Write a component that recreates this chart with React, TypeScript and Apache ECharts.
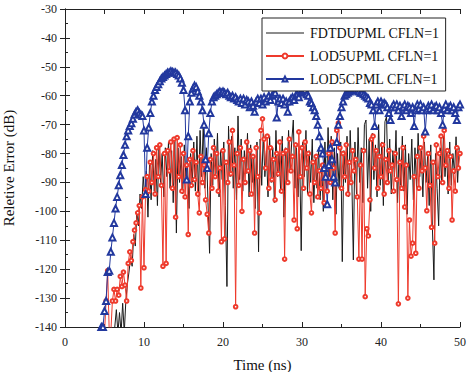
import React, { useEffect, useRef } from "react";
import * as echarts from "echarts";

// Sampling grids (ns)
const BLACK_START = 6.1;
const RED_START = 5.0;
const BLUE_START = 4.6;
const STEP = 0.2;

const seriesNames = ["FDTDUPML CFLN=1", "LOD5UPML CFLN=1", "LOD5CPML CFLN=1"];
const xTicks = [0, 10, 20, 30, 40, 50];
const yTicks = [-140, -130, -120, -110, -100, -90, -80, -70, -60, -50, -40, -30];

// FDTDUPML CFLN=1 (black), t = 6.1, 6.3, ...
const blackValues = [
  -142, -140, -134, -142, -135, -142, -131.8, -142, -131, -125,
  -121, -116, -119, -108, -112, -100, -105, -94, -99, -88,
  -95, -86, -102, -84, -96, -79, -93, -82, -98, -77,
  -90, -80, -95, -78, -88, -76, -92, -79, -97, -75,
  -107.5, -78, -90, -81, -94, -77, -88, -83, -99, -80,
  -90, -76, -93, -74, -95, -72, -88, -70, -92, -78,
  -97, -114.5, -80, -91, -75, -87, -73, -95, -79, -89,
  -76, -98, -126, -70.5, -88, -74, -92, -78, -96, -67,
  -89, -75, -93, -79, -87, -73, -95, -77, -90, -81,
  -99, -76, -114, -75, -91, -73, -88, -79, -95, -74,
  -90, -78, -97, -72, -88, -80, -93, -74, -102, -78,
  -90, -72, -86, -76, -68.4, -92, -78, -95, -80, -113.6,
  -76, -88, -72, -94, -79, -90, -75, -97, -81, -92,
  -78, -96, -84, -100, -76, -93, -71, -88, -74, -96,
  -78, -101, -80, -92, -76, -117.4, -79, -90, -74, -95,
  -72, -88, -116.8, -76, -94, -71, -90, -78, -97, -70,
  -68.4, -92, -75, -100, -73, -89, -77, -95, -70, -91,
  -76, -98, -69, -67.2, -90, -75, -94, -79, -88, -72,
  -97, -78, -91, -74, -93, -77, -101, -80, -89, -75,
  -96, -78, -92, -73, -88, -79, -95, -76, -90, -81,
  -98, -77, -105, -123.7, -80, -92, -105, -78, -90, -74,
  -88, -79, -94, -76, -91, -80, -87, -74.2, -90, -78,
];

// LOD5UPML CFLN=1 (red), t = 5.0, 5.2, ...
const redValues = [
  -142, -131, -120.5, -142, -142, -131, -127, -131, -127, -129,
  -122.5, -126, -121, -125.5, -131, -118, -114, -117, -110.5, -106.5,
  -104, -100.5, -98, -126.5, -95, -119.5, -92.5, -88, -93, -83,
  -90, -80, -94, -78, -88, -77, -91, -119, -80, -118,
  -79, -86, -76, -92, -75, -102, -74.5, -88, -77, -93,
  -80, -95, -84, -108, -82, -91, -79, -89, -83, -94,
  -100.5, -81, -90, -84, -96, -101, -107.5, -82, -92, -78,
  -88, -80, -93, -85, -110.5, -79, -109.5, -83, -90, -76,
  -87, -72, -84, -133, -80, -91, -78, -100, -82, -90,
  -76, -86, -79, -94, -81, -107.5, -78, -88, -100.5, -72,
  -68, -75, -85, -74, -92, -78, -89, -82, -96, -80,
  -87, -76, -93, -80, -116.5, -79, -90, -75, -86, -81,
  -103, -77, -106, -72.5, -88, -78, -92, -76, -85, -80,
  -94, -100.5, -83, -90, -81, -95, -86, -92, -84, -97,
  -88, -93, -80, -90, -76, -85, -107.5, -72, -69.5, -78,
  -92, -80, -88, -77, -94, -83, -90, -79, -86, -82,
  -95, -116.5, -84, -116.5, -79, -129.5, -106, -108.5, -96, -75,
  -74, -85, -79, -92, -81, -88, -77, -94, -82, -90,
  -79, -86, -84, -93, -80, -89, -132, -83, -92, -78,
  -98.5, -84, -130, -103, -115.5, -111, -88, -114.5, -81, -92,
  -78, -86, -74, -85, -99.8, -80, -91, -105.5, -83, -111,
  -77, -88, -80, -74, -90, -72, -84, -79, -92, -81,
  -103, -86, -93, -78, -85, -80,
];

// LOD5CPML CFLN=1 (blue), t = 4.6, 4.8, ...
const blueValues = [
  -140, -140, -134.5, -131, -121, -120.5, -114, -109, -104, -99,
  -95, -91, -87.5, -84, -80.5, -77, -74, -72, -70.5, -69.5,
  -68, -66.5, -65.5, -65, -66, -66.5, -67, -72, -94, -78,
  -71, -66, -62, -60, -58, -57, -56, -55, -54, -53.5,
  -53, -52.5, -52, -52, -51.5, -51.8, -52, -52, -52.5, -53,
  -54, -55.5, -58, -65, -89, -74, -62, -59, -57.5, -56.5,
  -57, -58.5, -60, -62, -65, -70, -82, -85, -73, -66,
  -62, -60.5, -60, -59.5, -59, -58.5, -59, -58.5, -59, -59.5,
  -59, -60, -60.5, -60, -61, -60.5, -61.5, -62, -61, -62.5,
  -61, -63, -61.5, -62, -64, -62, -63.5, -65.5, -62, -61,
  -62.5, -61, -63, -60.5, -62, -61, -60, -61.5, -60, -59.5,
  -59, -67.5, -62, -61, -62.5, -61, -63, -62, -65.5, -62,
  -61, -60.5, -61.5, -60, -59.5, -60.5, -59, -58.5, -58, -58,
  -59.5, -60, -62, -62.5, -64, -65, -67, -70, -74, -78,
  -80, -85, -88, -97.5, -84, -78, -82, -88, -90, -76,
  -70, -67, -64, -62, -60, -59.5, -59, -58.5, -58, -58,
  -57.7, -58, -58.3, -58.5, -59, -59, -59.5, -60, -60.5, -61,
  -62.5, -63, -65, -70.5, -63, -62, -65, -62, -63, -62.5,
  -63, -64, -66, -68.4, -64, -63, -64, -63, -65, -63.5,
  -67, -64, -63, -65, -63.5, -64, -66, -64, -70.5, -65,
  -63, -64.5, -63, -65, -64, -72.4, -65, -63.5, -64.5, -63,
  -65, -64, -63.5, -65, -64, -66, -70, -64.5, -63, -65,
  -64, -63.5, -65, -64, -66, -68.4, -64, -63,
];

const toPairs = (start: number, values: number[]) =>
  values.map((v, i) => [Math.round((start + i * STEP) * 100) / 100, v]);

const FONT = "Liberation Serif, Times New Roman, serif";
const BLACK = "#1a1a1a";
const RED = "#ee3a2c";
const BLUE = "#22389e";

export default function App() {
  const ref = useRef<HTMLDivElement>(null);

  useEffect(() => {
    if (!ref.current) return;
    const chart = echarts.init(ref.current, undefined, { renderer: "svg" });
    const axisLine = { show: true, lineStyle: { color: "#222", width: 1 } };
    chart.setOption({
      animation: false,
      backgroundColor: "#fff",
      grid: {
        left: 65,
        right: 8,
        top: 9,
        bottom: 45,
        containLabel: false,
        outerBoundsMode: "none",
      },
      legend: {
        orient: "vertical",
        left: 262,
        top: 18,
        width: 180,
        padding: [8, 6, 5, 3],
        itemGap: 9,
        itemWidth: 38,
        itemHeight: 6,
        backgroundColor: "#fff",
        borderColor: "#222",
        borderWidth: 1,
        borderRadius: 0,
        textStyle: { fontFamily: FONT, fontSize: 14, color: "#111", padding: [0, 0, 0, 1] },
        data: [
          { name: seriesNames[0], icon: "path://M0,0 L38,0 L38,1.2 L0,1.2 Z" },
          seriesNames[1],
          seriesNames[2],
        ],
      },
      xAxis: [
        {
          type: "value",
          min: 0,
          max: 50,
          interval: 10,
          name: "Time (ns)",
          nameLocation: "middle",
          nameGap: 30,
          nameTextStyle: { fontFamily: FONT, fontSize: 15, color: "#111" },
          axisLine,
          axisTick: { show: true, inside: true, length: 5, lineStyle: { color: "#222" } },
          minorTick: { show: true, splitNumber: 2, length: 3, lineStyle: { color: "#222" } },
          splitLine: { show: false },
          axisLabel: { fontFamily: FONT, fontSize: 12, color: "#222", margin: 9, customValues: xTicks },
        },
        {
          type: "value",
          position: "top",
          min: 0,
          max: 50,
          interval: 5,
          axisLine,
          axisTick: { show: true, inside: true, length: 5, lineStyle: { color: "#222" } },
          axisLabel: { show: false },
          splitLine: { show: false },
        },
      ],
      yAxis: [
        {
          type: "value",
          min: -140,
          max: -30,
          interval: 10,
          name: "Reletive Error (dB)",
          nameLocation: "middle",
          nameGap: 49,
          nameTextStyle: { fontFamily: FONT, fontSize: 15, color: "#111" },
          axisLine,
          axisTick: { show: true, inside: true, length: 5, lineStyle: { color: "#222" } },
          minorTick: { show: true, splitNumber: 2, length: 3, lineStyle: { color: "#222" } },
          splitLine: { show: false },
          axisLabel: { fontFamily: FONT, fontSize: 12, color: "#222", margin: 8, customValues: yTicks },
        },
        {
          type: "value",
          position: "right",
          min: -140,
          max: -30,
          interval: 10,
          axisLine,
          axisTick: { show: true, inside: true, length: 5, lineStyle: { color: "#222" } },
          axisLabel: { show: false },
          splitLine: { show: false },
        },
      ],
      series: [
        {
          name: seriesNames[0],
          type: "line",
          data: toPairs(BLACK_START, blackValues),
          showSymbol: false,
          symbol: "none",
          clip: true,
          lineStyle: { color: BLACK, width: 1 },
          itemStyle: { color: BLACK },
        },
        {
          name: seriesNames[1],
          type: "line",
          data: toPairs(RED_START, redValues),
          symbol: "emptyCircle",
          symbolSize: 3.6,
          clip: true,
          lineStyle: { color: RED, width: 1 },
          itemStyle: { color: RED, borderColor: RED, borderWidth: 0.9 },
        },
        {
          name: seriesNames[2],
          type: "line",
          data: toPairs(BLUE_START, blueValues),
          symbol: "emptyTriangle",
          symbolSize: 6,
          clip: true,
          lineStyle: { color: BLUE, width: 1 },
          itemStyle: { color: BLUE, borderColor: BLUE, borderWidth: 0.9 },
        },
      ],
    });
    return () => chart.dispose();
  }, []);

  return (
    <div
      ref={ref}
      style={{ position: "fixed", left: 0, top: 0, width: 468, height: 372, background: "#fff" }}
    />
  );
}
